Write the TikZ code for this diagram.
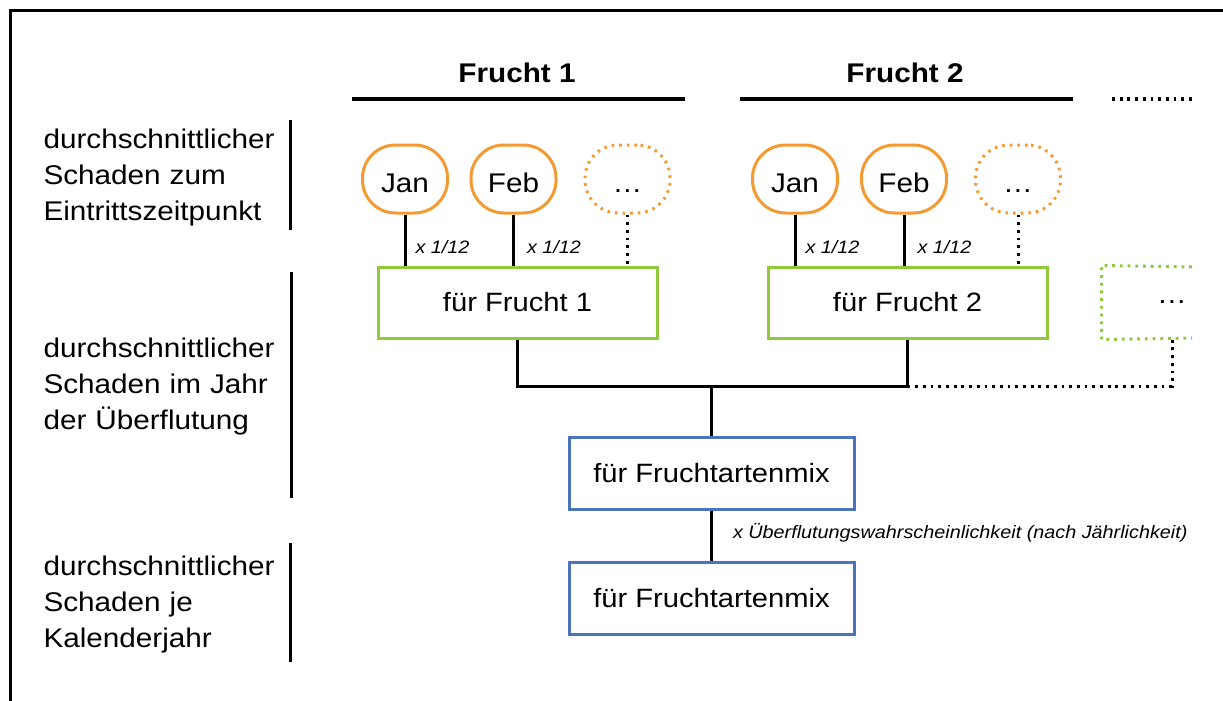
\documentclass[tikz,border=0pt]{standalone}
\usepackage{fontspec}
\setmainfont{Liberation Sans}[FakeStretch=1.1]
\usetikzlibrary{calc}
\definecolor{orng}{HTML}{F39A32}
\definecolor{grn}{HTML}{92C83E}
\definecolor{blu}{HTML}{4A74BE}
\begin{document}
\begin{tikzpicture}[x=1pt,y=-1pt,line width=3pt,
  side/.style={font=\fontsize{27}{36}\selectfont,inner sep=0pt,anchor=base west,text width=250pt,align=left},
  head/.style={font=\bfseries\fontsize{27}{32}\selectfont,inner sep=0pt,anchor=base},
  month/.style={draw=orng,rounded corners=33pt,minimum width=85pt,minimum height=68pt,
    font=\fontsize{27}{32}\selectfont,inner sep=0pt,text height=27pt,text depth=0pt},
  monthdots/.style={month,dash pattern=on 2.6pt off 5pt},
  fruit/.style={draw=grn,minimum width=279pt,minimum height=71pt,font=\fontsize{26.5}{32}\selectfont,inner sep=0pt},
  mix/.style={draw=blu,minimum width=285pt,minimum height=72pt,font=\fontsize{26.5}{32}\selectfont,inner sep=0pt},
  lab/.style={font=\itshape\fontsize{18}{22}\selectfont,inner sep=0pt,anchor=base west},
  conn/.style={draw=black,line width=3pt},
  dotline/.style={draw=black,line width=3pt,dash pattern=on 2.8pt off 4.9pt},
  dotgreen/.style={draw=grn,line width=3pt,dash pattern=on 2.8pt off 4.9pt}]
\useasboundingbox (0,0) rectangle (1223,701);
% frame
\draw[line width=3pt] (10.5,705) -- (10.5,10.5) -- (1230,10.5);

% left side labels and bars
\node[side] (s1) at (42,148) {durchschnittlicher\\Schaden zum\\Eintrittszeitpunkt};
\node[side] (s2) at (42,357) {durchschnittlicher\\Schaden im Jahr\\der Überflutung};
\node[side] (s3) at (42,575) {durchschnittlicher\\Schaden je\\Kalenderjahr};
\draw[line width=3pt] (290.5,120) -- (290.5,230);
\draw[line width=3pt] (291,272) -- (291,498);
\draw[line width=3pt] (290.5,543) -- (290.5,662);

% headers
\node[head] (h1) at (517,82) {Frucht 1};
\node[head] (h2) at (905,82) {Frucht 2};
\draw[line width=3.5pt] (352,99) -- (685,99);
\draw[line width=3.5pt] (740,99) -- (1073,99);
\draw[line width=3.5pt,dash pattern=on 2.8pt off 4.9pt] (1112,99) -- (1192,99);

% months
\node[month] (j1) at (405,179) {Jan};
\node[month] (f1) at (513.5,179) {Feb};
\node[monthdots] (d1) at (627.5,179) {…};
\node[month] (j2) at (795,179) {Jan};
\node[month] (f2) at (904,179) {Feb};
\node[monthdots] (d2) at (1018,179) {…};

% fruit boxes
\node[fruit] (b1) at (517.5,302.5) {für Frucht 1};
\node[fruit] (b2) at (907.5,302.5) {für Frucht 2};
\node[inner sep=0pt,minimum width=138pt,minimum height=71pt,font=\fontsize{27}{32}\selectfont] (b3) at (1172,302.5) {…};
\draw[dotgreen] (1192,267) -- (b3.north west) -- (b3.south west) -- (1192,338);

% month connectors
\draw[conn] (j1.south) -- (j1.south |- b1.north);
\draw[conn] (f1.south) -- (f1.south |- b1.north);
\draw[dotline] (d1.south) -- (d1.south |- b1.north);
\draw[conn] (j2.south) -- (j2.south |- b2.north);
\draw[conn] (f2.south) -- (f2.south |- b2.north);
\draw[dotline] (d2.south) -- (d2.south |- b2.north);
\node[lab] (l1) at ($(j1.south)+(9,39)$) {x 1/12};
\node[lab] (l2) at ($(f1.south)+(12,39)$) {x 1/12};
\node[lab] (l3) at ($(j2.south)+(9,39)$) {x 1/12};
\node[lab] (l4) at ($(f2.south)+(12,39)$) {x 1/12};

% mix boxes
\node[mix] (m1) at (711.5,473) {für Fruchtartenmix};
\node[mix] (m2) at (711.5,598.5) {für Fruchtartenmix};
\coordinate (jn) at (711.5,386);
\draw[conn] (b1.south) |- (jn) -| (b2.south);
\draw[conn] (jn) -- (m1.north);
\draw[dotline] (b2.south |- jn) -| (b3.south);
\draw[conn] (m1.south) -- (m2.north);
\node[lab] (l5) at ($(m1.south)+(20,28)$) {x Überflutungswahrscheinlichkeit (nach Jährlichkeit)};
\end{tikzpicture}
\end{document}
